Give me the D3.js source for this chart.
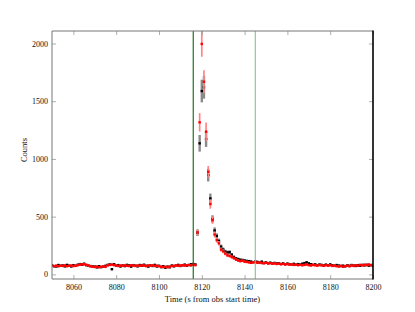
<!DOCTYPE html>
<html><head><meta charset="utf-8">
<script src="https://cdn.jsdelivr.net/npm/d3@7"></script>
<style>html,body{margin:0;padding:0;background:#fff;}svg{display:block;}</style>
</head><body>
<script>
// ---- data ----
const binStart = 8050, binWidth = 1;            // time of first bin (s), bin size (s)
const xTicks = [8060, 8080, 8100, 8120, 8140, 8160, 8180, 8200];
const yTicks = [0, 500, 1000, 1500, 2000];
const markerTimes = [8116, 8145];

const redPre = [74,72,76,70,75,73,78,71,74,77, 72,75,79,84,88,86,83,78,70,66,
  64,68,62,66,70,65,78,82,85,80, 76,73,77,74,78,75,72,79,76,73,
  77,74,80,76,72,78,75,79,73,76, 71,67,63,66,62,68,72,75,78,74, 77,80,76,79,82,78,84];
const redFlare = [80,364,1317,1996,1669,1236,889,609,470,345,297,269,215,200,180,165,160,150,140,128,120,115,118,110,108,104,100,104,106];
const redPost = [100,104,98,96,101,94,97,92,95,90, 93,88,91,86,89,84,87,82,85,80,
  84,79,82,86,80,77,83,79,76,81, 78,74,80,76,79,73,77,71,68,74, 66,72,75,70,77,73,79,75,82,78, 84,80,86,79,83];

const blackPre = [79,71,69,81,74,77,70,82,75,69, 80,74,83,89,84,92,80,75,72,69,
  67,61,71,63,68,74,82,86,45,88, 74,80,69,77,72,82,77,68,80,75,
  70,81,76,83,74,68,78,73,82,69, 74,63,70,58,67,62,76,70,78,82, 73,79,84,75,81,87,90];
const blackFlare = [85,360,1135,1588,1620,1172,860,658,480,380,332,289,240,215,196,190,192,170,150,138,132,126,124,120,116,114,110,106,110];
const blackPost = [108,102,110,99,104,97,101,95,99,94, 97,90,95,88,93,89,86,91,84,89,
  86,92,98,104,95,88,82,86,80,85, 82,77,84,79,86,78,74,81,76,72, 75,70,79,74,81,76,73,80,75,82, 78,83,76,81,77];

// 1-sigma errors: flare bins listed, background bins share bgErr
const bgErr = 9;
const redFlareErr = [9,30,80,111,100,80,50,40,32,26,22,20,18,17,16,15,15,14,13,12,12,11,11,11,10,10,10,10,10];
const blackFlareErr = [9,28,72,98,98,68,55,42,32,27,23,21,19,18,17,16,16,15,14,13,13,12,12,11,11,11,10,10,10];

// ---- build table ----
function series(pre, flare, post, flareErr) {
  const counts = pre.concat(flare, post);
  return counts.map((c, i) => {
    const inFlare = i >= pre.length && i < pre.length + flare.length;
    return { t: binStart + i * binWidth, c: c, e: inFlare ? flareErr[i - pre.length] : bgErr };
  });
}
const black = series(blackPre, blackFlare, blackPost, blackFlareErr);
const red = series(redPre, redFlare, redPost, redFlareErr);

// ---- chart ----
const W = 415, H = 312;
const L = 52, R = 373, T = 31, B = 279;
const svg = d3.select("body").append("svg").attr("width", W).attr("height", H);
const x = d3.scaleLinear().domain([8050, 8200]).range([L, R]);
const y = d3.scaleLinear().domain([-40, 2108]).range([B, T]);
const font = "Liberation Serif, Times New Roman, serif";

svg.append("clipPath").attr("id", "c").append("rect")
  .attr("x", L).attr("y", T).attr("width", R - L).attr("height", B - T);
const plot = svg.append("g").attr("clip-path", "url(#c)");

function drawSeries(data, barColor, barW, ptColor) {
  const g = plot.append("g");
  g.selectAll("line.ev").data(data).enter().append("line")
    .attr("x1", d => x(d.t)).attr("x2", d => x(d.t))
    .attr("y1", d => y(d.c - d.e)).attr("y2", d => y(d.c + d.e))
    .attr("stroke", barColor).attr("stroke-width", barW);
  g.selectAll("line.eh").data(data).enter().append("line")
    .attr("x1", d => x(d.t - binWidth / 2)).attr("x2", d => x(d.t + binWidth / 2))
    .attr("y1", d => y(d.c)).attr("y2", d => y(d.c))
    .attr("stroke", barColor).attr("stroke-width", 1.2);
  g.selectAll("rect").data(data).enter().append("rect")
    .attr("x", d => x(d.t) - 1.2).attr("y", d => y(d.c) - 1.2)
    .attr("width", 2.4).attr("height", 2.4).attr("fill", ptColor);
}
drawSeries(black, "#8a8a8a", 2.4, "#000");
drawSeries(red, "#ff8585", 1.7, "#ff0000");

// vertical marker lines
const vcol = ["#0f660f", "#86c486"];
plot.selectAll("line.vm").data(markerTimes).enter().append("line")
  .attr("x1", d => x(d)).attr("x2", d => x(d)).attr("y1", T).attr("y2", B)
  .attr("stroke", (d, i) => vcol[i]).attr("stroke-width", 1.1);

// axes
const tickLen = 4;
const xb = svg.append("g").attr("transform", `translate(0,${B})`)
  .call(d3.axisBottom(x).tickValues(xTicks).tickSizeInner(-tickLen).tickSizeOuter(0).tickPadding(5).tickFormat(d3.format("d")));
const xt = svg.append("g").attr("transform", `translate(0,${T})`)
  .call(d3.axisTop(x).tickValues(xTicks).tickSizeInner(-tickLen).tickSizeOuter(0).tickFormat(""));
const yl = svg.append("g").attr("transform", `translate(${L},0)`)
  .call(d3.axisLeft(y).tickValues(yTicks).tickSizeInner(-tickLen).tickSizeOuter(0).tickPadding(4).tickFormat(d3.format("d")));
const yr = svg.append("g").attr("transform", `translate(${R},0)`)
  .call(d3.axisRight(y).tickValues(yTicks).tickSizeInner(-tickLen).tickSizeOuter(0).tickFormat(""));
[xb, xt, yl, yr].forEach(g => {
  g.select(".domain").remove();
  g.selectAll(".tick line").attr("stroke", "#999").attr("stroke-width", 0.8);
  g.selectAll("text").attr("font-family", font).attr("font-size", 8).attr("fill", "#111");
});
// frame
svg.append("line").attr("x1", L).attr("x2", R).attr("y1", T).attr("y2", T).attr("stroke", "#777").attr("stroke-width", 1);
svg.append("line").attr("x1", L).attr("x2", R).attr("y1", B).attr("y2", B).attr("stroke", "#777").attr("stroke-width", 1);
svg.append("line").attr("x1", L).attr("x2", L).attr("y1", T).attr("y2", B).attr("stroke", "#777").attr("stroke-width", 1);
svg.append("line").attr("x1", R).attr("x2", R).attr("y1", T - 0.5).attr("y2", B + 0.5).attr("stroke", "#000").attr("stroke-width", 1.6);

// titles
svg.append("text").attr("x", (L + R) / 2).attr("y", 302).attr("text-anchor", "middle")
  .attr("font-family", font).attr("font-size", 8.5).attr("fill", "#111")
  .text("Time (s from obs start time)");
svg.append("text").attr("transform", `translate(27,${(T + B) / 2 - 5}) rotate(-90)`)
  .attr("text-anchor", "middle").attr("font-family", font).attr("font-size", 8.5).attr("fill", "#111")
  .text("Counts");
</script>
</body></html>
